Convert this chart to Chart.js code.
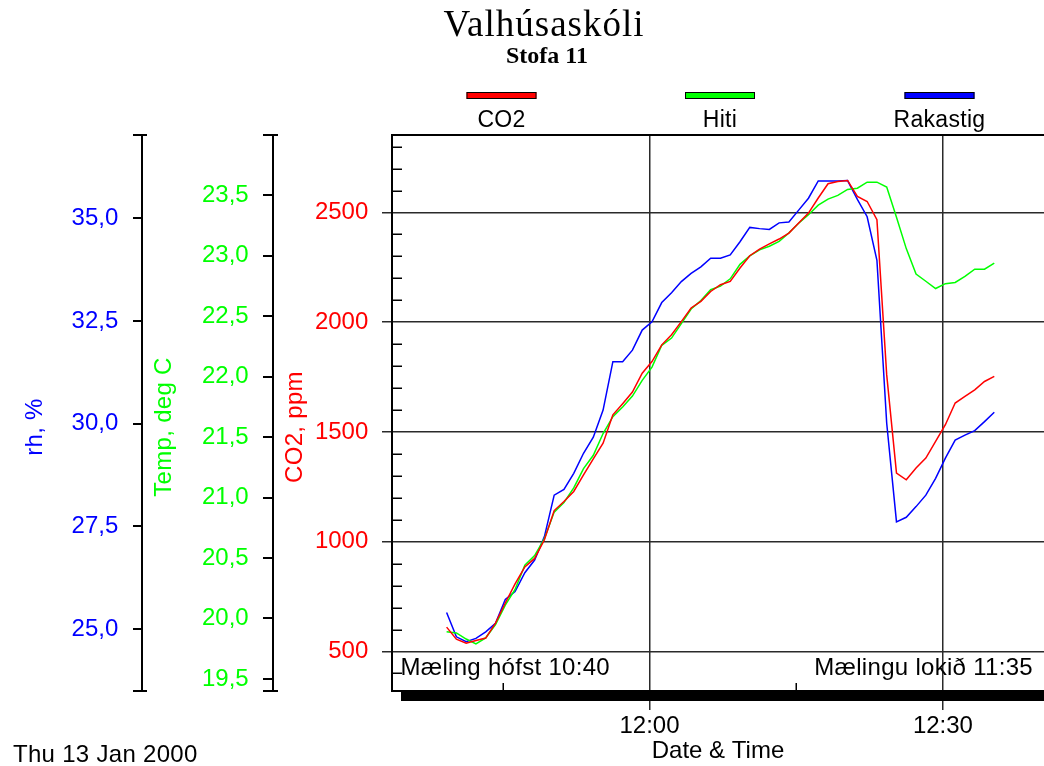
<!DOCTYPE html>
<html><head><meta charset="utf-8">
<script src="https://cdn.jsdelivr.net/npm/chart.js@4/dist/chart.umd.min.js"></script>
<style>html,body{margin:0;padding:0;background:#fff;overflow:hidden}canvas{display:block}</style>
</head><body>
<canvas id="c" width="1044" height="766" style="width:1044px;height:766px"></canvas>
<script>
const times = ['11:39:15','11:40:15','11:41:15','11:42:15','11:43:15','11:44:15','11:45:15','11:46:15','11:47:15','11:48:15',
  '11:49:15','11:50:15','11:51:15','11:52:15','11:53:15','11:54:15','11:55:15','11:56:15','11:57:15','11:58:15',
  '11:59:15','12:00:15','12:01:15','12:02:15','12:03:15','12:04:15','12:05:15','12:06:15','12:07:15','12:08:15',
  '12:09:15','12:10:15','12:11:15','12:12:15','12:13:15','12:14:15','12:15:15','12:16:15','12:17:15','12:18:15',
  '12:19:15','12:20:15','12:21:15','12:22:15','12:23:15','12:24:15','12:25:15','12:26:15','12:27:15','12:28:15',
  '12:29:15','12:30:15','12:31:15','12:32:15','12:33:15','12:34:15','12:35:15'];
const co2 = [611,556,538,550,561,629,721,808,885,924,1009,1142,1183,1229,1305,1378,1449,1578,1629,1682,
  1768,1821,1897,1943,2003,2065,2095,2140,2171,2186,2247,2303,2333,2357,2379,2406,2452,2497,2566,2631,
  2641,2646,2573,2550,2467,1760,1313,1282,1336,1381,1457,1533,1632,1662,1692,1730,1753];
const hiti = [19.89,19.88,19.83,19.79,19.84,19.95,20.11,20.24,20.44,20.52,20.66,20.88,20.96,21.08,21.24,21.35,21.53,21.67,21.75,21.84,
  21.97,22.08,22.26,22.32,22.44,22.56,22.63,22.72,22.75,22.81,22.93,23.00,23.05,23.08,23.12,23.19,23.27,23.34,23.42,23.47,
  23.50,23.55,23.56,23.61,23.61,23.57,23.32,23.06,22.85,22.79,22.73,22.77,22.78,22.83,22.89,22.89,22.94];
const rakastig = [25.40,24.81,24.69,24.77,24.93,25.14,25.72,25.91,26.37,26.68,27.25,28.26,28.40,28.79,29.28,29.67,30.33,31.51,31.51,31.79,
  32.28,32.48,32.95,33.19,33.46,33.66,33.82,34.03,34.03,34.11,34.43,34.78,34.75,34.73,34.89,34.91,35.20,35.49,35.91,35.91,
  35.91,35.92,35.46,35.04,33.98,30.01,27.61,27.72,27.98,28.26,28.67,29.16,29.60,29.72,29.83,30.05,30.28];
const co2Ticks = [500,1000,1500,2000,2500];
const tempTicks = [19.5,20,20.5,21,21.5,22,22.5,23,23.5];
const rhTicks = [25,27.5,30,32.5,35];
const timeTicks = ['12:00','12:30'];
const timeMinorTicks = ['11:45','12:15'];
const seriesNames = ['CO2','Hiti','Rakastig'];
const seriesColors = ['#ff0000','#00ff00','#0000ff'];
const axisTitles = ['CO2, ppm','Temp, deg C','rh, %'];
const titleText = 'Valhúsaskóli';
const subtitleText = 'Stofa 11';
const dateText = 'Thu 13 Jan 2000';
const startNote = 'Mæling hófst 10:40';
const endNote = 'Mælingu lokið 11:35';
const xTitle = 'Date & Time';

const F = "'Liberation Sans', Arial, sans-serif";
const toMin = s => { const p = s.split(':').map(Number); return p[0]*60 + p[1] + (p[2] || 0)/60; };
const fmtTime = v => { const h = Math.floor(v/60), m = Math.round(v - h*60); return h + ':' + String(m).padStart(2,'0'); };
const fmtDec = v => v.toFixed(1).replace('.', ',');
const pts = arr => times.map((t,i) => ({x: toMin(t), y: arr[i]}));

const decor = {
  id: 'decor',
  afterDraw(chart) {
    const {ctx, chartArea: ca, scales} = chart;
    ctx.save();
    const line = (x1,y1,x2,y2) => { ctx.beginPath(); ctx.moveTo(x1,y1); ctx.lineTo(x2,y2); ctx.stroke(); };
    ctx.strokeStyle = '#000'; ctx.lineWidth = 2;
    line(ca.left - 1, ca.top, ca.right, ca.top);
    // end caps of the outer axes
    for (const id of ['rh','temp']) {
      const s = scales[id];
      line(s.right, s.top, s.right + 5, s.top);
      line(s.right, s.bottom, s.right + 5, s.bottom);
    }
    ctx.lineWidth = 1.5;
    for (let v = 400; v <= 2800; v += 100) {
      if (v % 500 === 0) continue;
      const y = Math.round(scales.co2.getPixelForValue(v)) + 0.25;
      line(ca.left, y, ca.left + 10, y);
    }
    for (const t of timeMinorTicks) {
      const x = Math.round(scales.x.getPixelForValue(toMin(t))) + 0.25;
      line(x, ca.bottom - 8, x, ca.bottom);
    }
    // shadow bar under plot
    ctx.fillStyle = '#000';
    ctx.fillRect(ca.left + 9, ca.bottom + 1, ca.right - ca.left - 9, 9);
    // titles
    ctx.fillStyle = '#000';
    ctx.textAlign = 'center'; ctx.textBaseline = 'alphabetic';
    ctx.font = "37px 'Liberation Serif', 'Times New Roman', serif";
    ctx.letterSpacing = '1px';
    ctx.fillText(titleText, 544, 36);
    ctx.letterSpacing = '0px';
    ctx.font = "bold 24px 'Liberation Serif', 'Times New Roman', serif";
    ctx.fillText(subtitleText, 547, 63);
    // legend
    const centers = [501.5, 720, 939.5];
    ctx.font = '23px ' + F;
    ctx.letterSpacing = '0.3px';
    chart.data.datasets.forEach((ds, i) => {
      ctx.fillStyle = ds.borderColor;
      ctx.fillRect(centers[i] - 35, 92, 70, 7);
      ctx.strokeStyle = '#000'; ctx.lineWidth = 1;
      ctx.strokeRect(centers[i] - 35 + 0.5, 92 + 0.5, 69, 6);
      ctx.fillStyle = '#000';
      ctx.fillText(ds.label, centers[i], 127);
    });
    // notes
    ctx.font = '24px ' + F;
    ctx.textAlign = 'left';
    ctx.fillText(startNote, 400.5, 675);
    ctx.textAlign = 'right';
    ctx.fillText(endNote, 1033, 675);
    ctx.textAlign = 'left';
    ctx.fillText(dateText, 13, 762);
    // rotated axis titles
    const at = [[axisTitles[0], 302, 427, seriesColors[0]], [axisTitles[1], 171, 427, seriesColors[1]], [axisTitles[2], 42, 427, seriesColors[2]]];
    ctx.textAlign = 'center';
    for (const [txt, x, y, col] of at) {
      ctx.save();
      ctx.translate(x, y); ctx.rotate(-Math.PI/2);
      ctx.fillStyle = col;
      ctx.fillText(txt, 0, 0);
      ctx.restore();
    }
    ctx.restore();
  }
};

const gridDark = '#2a2a2a';
new Chart(document.getElementById('c'), {
  type: 'line',
  data: {
    datasets: [
      {label: seriesNames[0], data: pts(co2), yAxisID: 'co2', borderColor: seriesColors[0], backgroundColor: seriesColors[0], borderWidth: 1.5, pointRadius: 0, tension: 0, fill: false},
      {label: seriesNames[1], data: pts(hiti), yAxisID: 'temp', borderColor: seriesColors[1], backgroundColor: seriesColors[1], borderWidth: 1.5, pointRadius: 0, tension: 0, fill: false},
      {label: seriesNames[2], data: pts(rakastig), yAxisID: 'rh', borderColor: seriesColors[2], backgroundColor: seriesColors[2], borderWidth: 1.5, pointRadius: 0, tension: 0, fill: false}
    ]
  },
  options: {
    responsive: false, animation: false, devicePixelRatio: 1, events: [],
    layout: {padding: {top: 135, left: 0, right: 0, bottom: 0}},
    plugins: {legend: {display: false}, tooltip: {enabled: false}, title: {display: false}},
    scales: {
      x: {
        type: 'linear', position: 'bottom', min: toMin('11:33:40'), max: toMin('12:40:20'),
        afterBuildTicks: s => { s.ticks = timeTicks.map(t => ({value: toMin(t)})); },
        afterFit: s => { s.height = 75; },
        ticks: {autoSkip: false, maxRotation: 0, padding: 2, color: '#000', font: {family: F, size: 24}, callback: v => fmtTime(v)},
        grid: {color: gridDark, lineWidth: 1.5, tickLength: 19, drawTicks: true},
        border: {color: '#000', width: 2},
        title: {display: true, text: xTitle, color: '#000', font: {family: F, size: 24}, padding: {top: 0, bottom: 0}}
      },
      co2: {
        type: 'linear', position: 'left', weight: 1, min: 320, max: 2853,
        afterBuildTicks: s => { s.ticks = co2Ticks.map(v => ({value: v})); },
        afterFit: s => { s.width = 119; },
        ticks: {autoSkip: false, padding: 13.7, color: '#ff0000', font: {family: F, size: 24}, callback: v => String(v)},
        grid: {color: gridDark, lineWidth: 1.5, tickLength: 10},
        border: {color: '#000', width: 2}
      },
      temp: {
        type: 'linear', position: 'left', weight: 2, min: 19.4, max: 24.0,
        afterBuildTicks: s => { s.ticks = [19.4, ...tempTicks, 24.0].map(v => ({value: v})); },
        afterFit: s => { s.width = 131; },
        ticks: {autoSkip: false, padding: 14.3, color: '#00ff00', font: {family: F, size: 24}, callback: v => tempTicks.includes(v) ? fmtDec(v) : ''},
        grid: {drawOnChartArea: false, color: '#000', lineWidth: 2, tickLength: 10},
        border: {color: '#000', width: 2}
      },
      rh: {
        type: 'linear', position: 'left', weight: 3, min: 23.49, max: 37.03,
        afterBuildTicks: s => { s.ticks = [23.49, ...rhTicks, 37.03].map(v => ({value: v})); },
        afterFit: s => { s.width = 142; },
        ticks: {autoSkip: false, padding: 14.7, color: '#0000ff', font: {family: F, size: 24}, callback: v => rhTicks.includes(v) ? fmtDec(v) : ''},
        grid: {drawOnChartArea: false, color: '#000', lineWidth: 2, tickLength: 9},
        border: {color: '#000', width: 2}
      }
    }
  },
  plugins: [decor]
});
</script>
</body></html>
